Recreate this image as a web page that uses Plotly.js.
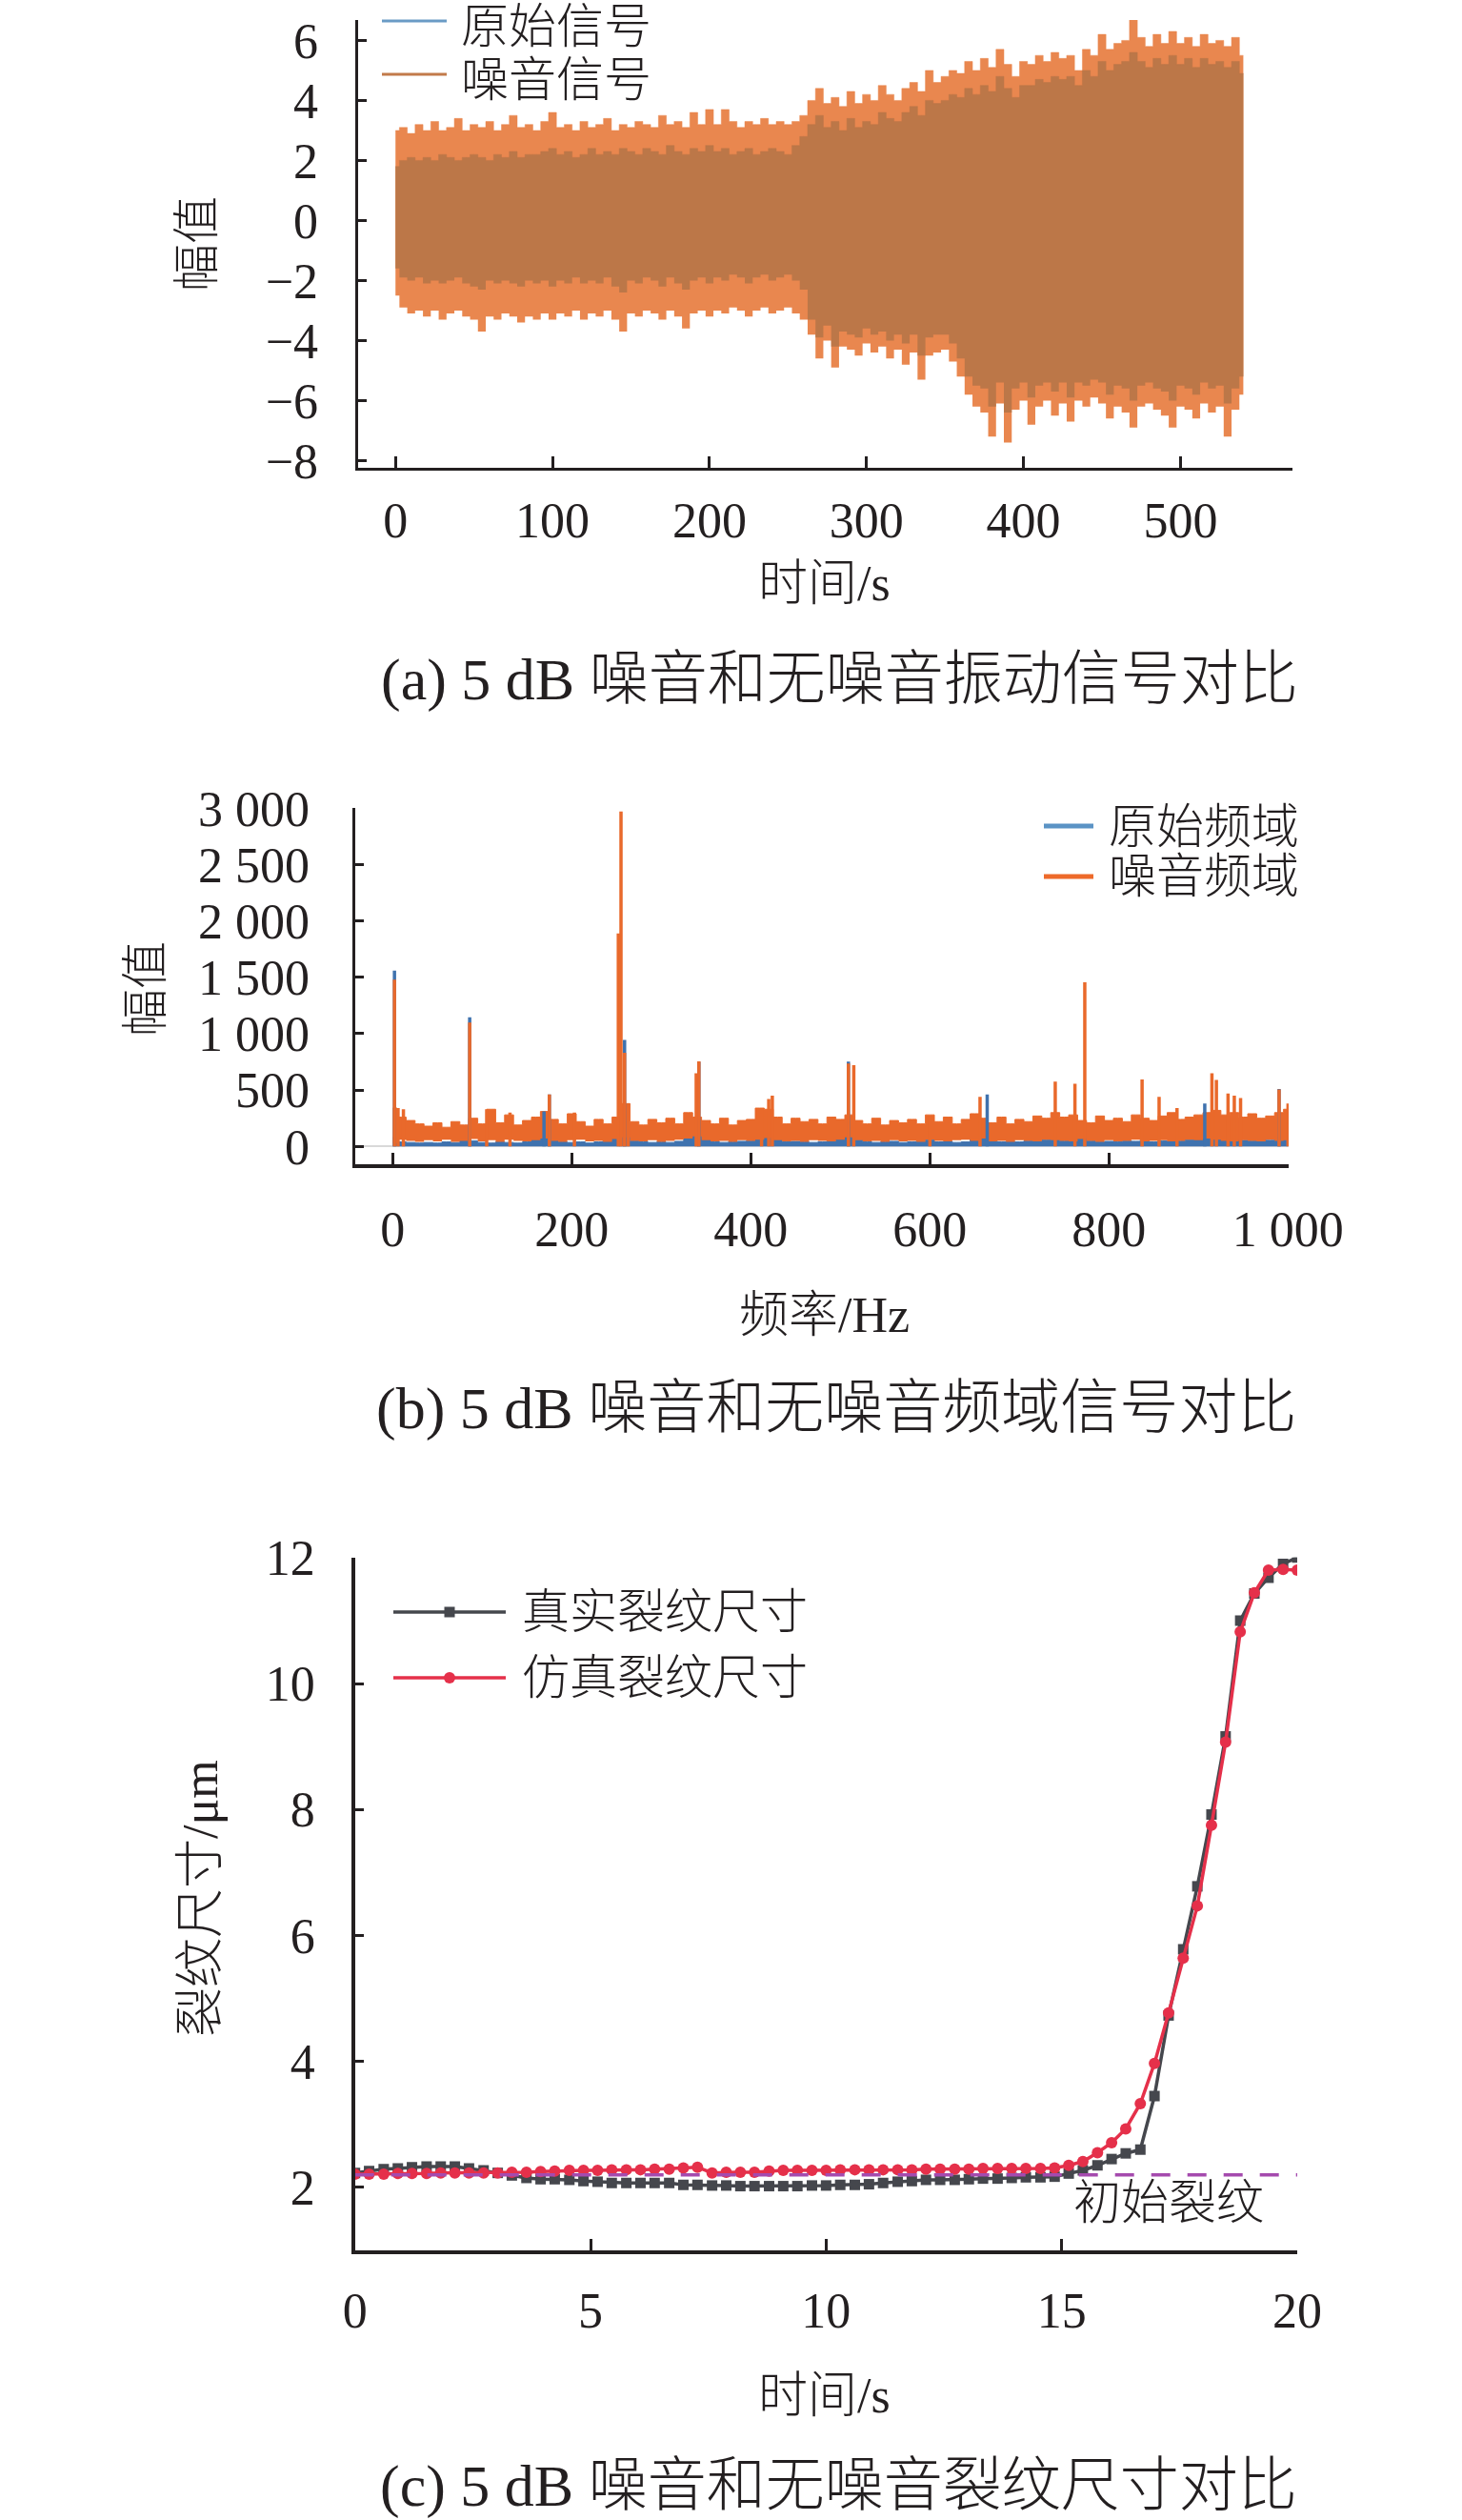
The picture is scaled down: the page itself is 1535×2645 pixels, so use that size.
<!DOCTYPE html>
<html>
<head>
<meta charset="utf-8">
<script src="https://cdn.plot.ly/plotly-3.0.1.min.js"></script>
<style>
    html, body { margin: 0; padding: 0; background: #fff; }
</style>
</head>
<body>
<div id="chart" style="width:1535px;height:2645px"></div>
<script>
// ---- (a) time signal envelopes, read every 5 s ----
const timeA = [0,5,10,15,20,25,30,35,40,45,50,55,60,65,70,75,80,85,90,95,100,
    105,110,115,120,125,130,135,140,145,150,155,160,165,170,175,180,185,190,195,200,
    205,210,215,220,225,230,235,240,245,250,255,260,
    265,270,275,280,285,290,295,300,
    305,310,315,320,325,330,335,340,
    345,350,355,360,365,370,375,380,385,390,395,400,
    405,410,415,420,425,430,435,440,445,450,455,460,
    465,470,475,480,485,490,495,500,505,510,515,520,525,530,535,540];
const noiseUpper = [3.0,3.1,2.9,3.2,3.0,3.3,3.0,3.1,3.4,3.0,3.2,3.1,3.3,3.0,3.2,3.5,3.1,3.2,3.0,3.3,3.6,
    3.1,3.2,3.0,3.3,3.1,3.2,3.4,3.0,3.2,3.1,3.3,3.2,3.1,3.5,3.2,3.3,3.1,3.6,3.2,3.7,
    3.2,3.7,3.3,3.1,3.3,3.2,3.4,3.2,3.3,3.2,3.3,3.5,
    4.0,4.4,3.9,4.1,3.8,4.3,3.9,4.2,
    4.0,4.5,4.2,4.0,4.4,4.6,4.3,5.0,
    4.6,4.8,5.0,4.9,5.3,5.0,5.4,5.1,5.7,5.2,4.8,5.3,
    5.2,5.5,5.3,5.6,5.4,5.5,5.0,5.7,5.5,6.2,5.7,5.9,
    6.0,6.7,6.1,5.8,6.2,5.9,6.3,5.9,6.1,5.8,6.2,5.9,6.0,5.8,6.1,5.5];
const noiseLower = [-2.5,-2.9,-3.1,-3.0,-3.2,-3.0,-3.3,-3.1,-3.0,-3.2,-3.3,-3.7,-3.2,-3.3,-3.1,-3.2,-3.4,-3.2,-3.3,-3.1,-3.3,
    -3.1,-3.2,-3.0,-3.3,-3.1,-3.2,-3.0,-3.3,-3.7,-3.1,-3.2,-3.0,-3.1,-3.3,-3.0,-3.2,-3.6,-3.1,-3.0,-3.2,
    -3.0,-3.1,-2.9,-3.0,-3.2,-3.0,-2.9,-3.1,-3.0,-2.9,-3.1,-3.3,
    -3.8,-4.6,-4.0,-4.9,-4.2,-4.3,-4.5,-4.1,
    -4.4,-4.2,-4.6,-4.3,-4.8,-4.4,-5.3,-4.5,-4.4,-4.3,-4.7,-5.2,
    -5.8,-6.2,-6.4,-7.2,-6.1,-7.4,-6.3,-6.0,
    -6.8,-6.2,-6.0,-6.5,-6.1,-6.7,-6.0,-6.2,-5.9,-6.1,-6.6,-6.2,
    -6.4,-6.9,-6.2,-6.1,-6.3,-6.5,-6.9,-6.2,-6.3,-6.6,-6.1,-6.4,-6.2,-7.2,-6.3,-5.8];
const origUpper = [1.8,2.0,2.1,2.0,2.1,2.0,2.2,2.1,2.0,2.1,2.2,2.1,2.0,2.2,2.1,2.3,2.1,2.2,2.2,2.3,2.4,
    2.2,2.3,2.1,2.2,2.4,2.2,2.3,2.2,2.4,2.3,2.2,2.4,2.3,2.2,2.5,2.3,2.2,2.4,2.3,2.5,
    2.3,2.4,2.2,2.3,2.4,2.2,2.3,2.4,2.3,2.2,2.5,2.8,
    3.2,3.5,3.1,3.3,3.0,3.4,3.1,3.3,
    3.2,3.6,3.4,3.3,3.6,3.8,3.5,4.0,
    3.9,4.0,4.2,4.1,4.4,4.2,4.5,4.3,4.8,4.4,4.1,4.5,
    4.5,4.7,4.6,4.8,4.7,4.8,4.5,5.0,4.8,5.3,5.0,5.2,
    5.3,5.6,5.3,5.1,5.4,5.2,5.5,5.2,5.4,5.1,5.4,5.2,5.3,5.1,5.3,4.9];
const origLower = [-1.6,-1.9,-2.0,-1.9,-2.1,-2.0,-2.1,-2.0,-1.9,-2.1,-2.2,-2.3,-2.0,-2.1,-2.0,-2.1,-2.2,-2.0,-2.1,-2.0,-2.2,
    -2.0,-2.1,-1.9,-2.1,-2.0,-2.1,-1.9,-2.2,-2.4,-2.0,-2.1,-1.9,-2.0,-2.2,-1.9,-2.1,-2.3,-2.0,-1.9,-2.1,
    -1.9,-2.0,-1.8,-1.9,-2.1,-1.9,-1.8,-2.0,-1.9,-1.8,-2.0,-2.3,
    -3.3,-3.9,-3.5,-4.2,-3.7,-3.8,-3.9,-3.6,
    -3.8,-3.7,-4.0,-3.8,-4.1,-3.8,-4.5,-3.9,-3.8,-3.8,-4.1,-4.6,
    -5.2,-5.5,-5.6,-6.2,-5.4,-6.4,-5.6,-5.4,
    -5.9,-5.5,-5.4,-5.7,-5.4,-5.9,-5.4,-5.5,-5.3,-5.4,-5.8,-5.5,
    -5.6,-6.0,-5.5,-5.4,-5.6,-5.7,-6.0,-5.5,-5.6,-5.8,-5.4,-5.6,-5.5,-6.1,-5.6,-5.2];
const aXTicks = [0, 100, 200, 300, 400, 500];
const aYTicks = [-8, -6, -4, -2, 0, 2, 4, 6];

// ---- (b) spectrum: noise floor every 10 Hz plus peaks ----
const freqB = [0,10,20,30,40,50,60,70,80,90,100,110,120,130,140,150,160,170,180,190,
    200,210,220,230,240,250,260,270,280,290,300,310,320,330,340,350,360,370,380,390,
    400,410,420,430,440,450,460,470,480,490,500,510,520,530,540,550,560,570,580,590,
    600,610,620,630,640,650,660,670,680,690,700,710,720,730,740,750,760,770,780,790,
    800,810,820,830,840,850,860,870,880,890,900,910,920,930,940,950,960,970,980,990,1000];
const noiseTop = [340,260,230,200,180,210,170,220,190,250,
    200,330,210,280,190,230,260,310,240,200,
    290,220,180,240,200,260,380,220,190,240,
    210,250,200,300,260,230,200,250,190,230,
    240,340,330,260,200,250,220,240,200,260,
    240,280,230,200,250,190,230,210,240,200,
    280,220,260,200,240,290,250,210,260,200,
    240,220,270,250,300,260,280,230,210,270,
    230,250,220,280,250,230,270,300,240,260,
    280,300,320,280,300,260,290,250,270,300,330];
const noiseBottom = [30,60,50,40,55,45,60,40,50,65,
    45,55,40,60,50,45,55,70,50,40,
    55,60,45,50,40,65,80,50,45,55,
    40,50,60,70,90,55,45,50,40,55,
    50,60,75,55,45,50,40,55,50,45,
    60,80,55,45,50,40,55,45,50,40,
    60,50,45,55,60,50,70,45,50,40,
    55,50,45,60,55,50,45,65,50,40,
    55,45,50,60,45,50,55,45,50,60,
    55,70,60,50,45,55,50,45,60,50,55];
const origTop = [80,40,35,30,35,30,40,35,60,50,
    35,30,40,35,30,40,80,200,90,40,
    35,40,30,40,60,180,200,50,40,35,
    40,35,45,90,220,70,40,35,40,45,
    50,120,160,70,40,45,40,35,40,50,
    90,200,60,40,35,40,45,35,40,50,
    60,40,45,35,40,80,140,60,40,45,
    40,50,45,60,90,50,70,100,50,40,
    45,40,50,45,60,40,50,45,50,60,
    80,120,90,60,70,55,50,60,55,80,60];
const noisePeakF = [2,6,12,86,105,131,175,203,252,255,259,263,339,342,412,420,424,509,515,600,
    656,740,762,773,837,856,876,915,920,933,940,947,990,1000];
const noisePeakA = [1480,340,330,1100,330,300,460,300,1890,2970,830,380,650,755,340,420,450,735,720,270,
    440,575,555,1455,595,440,340,648,590,470,450,430,505,380];
const origPeakF = [2,86,169,175,259,342,509,664,907,990];
const origPeakA = [1560,1145,310,460,944,750,752,460,380,510];
const bXTicks = [0, 200, 400, 600, 800, 1000];
const bXText = ['0', '200', '400', '600', '800', '1 000'];
const bYTicks = [0, 500, 1000, 1500, 2000, 2500, 3000];
const bYText = ['0', '500', '1 000', '1 500', '2 000', '2 500', '3 000'];

// ---- (c) crack size ----
const timeC = [0,0.30,0.61,0.91,1.21,1.52,1.82,2.12,2.42,2.73,3.03,3.33,3.64,3.94,4.24,4.55,4.85,
    5.15,5.45,5.76,6.06,6.36,6.67,6.97,7.27,7.58,7.88,8.18,8.48,8.79,9.09,9.39,9.70,
    10.00,10.30,10.61,10.91,11.21,11.52,11.82,12.12,12.42,12.73,13.03,13.33,13.64,13.94,14.24,14.55,14.85,
    15.15,15.45,15.76,16.06,16.36,16.67,16.97,17.27,17.58,17.88,18.18,18.48,18.79,19.09,19.39,19.70,20.00];
const realCrack = [2.23,2.26,2.29,2.30,2.32,2.33,2.33,2.33,2.30,2.27,2.23,2.19,2.15,2.13,2.13,2.12,2.10,
    2.09,2.07,2.07,2.07,2.07,2.07,2.04,2.04,2.03,2.03,2.02,2.02,2.02,2.02,2.02,2.03,
    2.03,2.04,2.04,2.05,2.07,2.09,2.10,2.12,2.12,2.12,2.13,2.14,2.14,2.15,2.16,2.16,2.17,
    2.22,2.27,2.35,2.45,2.54,2.60,3.45,4.73,5.78,6.78,7.92,9.16,11.00,11.43,11.68,11.90,12.00];
const simCrack = [2.21,2.21,2.21,2.22,2.22,2.22,2.23,2.23,2.23,2.23,2.23,2.24,2.24,2.25,2.26,2.27,2.27,
    2.27,2.28,2.28,2.28,2.29,2.29,2.31,2.32,2.23,2.24,2.24,2.24,2.26,2.27,2.27,2.27,
    2.27,2.28,2.28,2.28,2.28,2.28,2.28,2.29,2.29,2.29,2.29,2.30,2.30,2.30,2.30,2.30,2.31,
    2.35,2.41,2.55,2.71,2.93,3.33,3.97,4.77,5.64,6.47,7.75,9.07,10.82,11.44,11.80,11.81,11.80];
const initCrackX = [0, 20];
const initCrackY = [2.2, 2.2];
const cXTicks = [0, 5, 10, 15, 20];
const cYTicks = [2, 4, 6, 8, 10, 12];

// ---- page geometry helpers (pixels -> paper fractions) ----
const W = 1535, H = 2645;
const px = x => x / W;
const py = y => 1 - y / H;
const INK = '#231f20';
const NUM_FONT = 'Liberation Serif, Times New Roman, serif';
const CJK_FONT = 'Liberation Serif, Noto Sans CJK SC, sans-serif';

function label(text, x, y, size, extra) {
    return Object.assign({
        text: text, xref: 'paper', yref: 'paper', x: px(x), y: py(y),
        xanchor: 'center', yanchor: 'middle', showarrow: false,
        font: { family: CJK_FONT, size: size, color: INK, weight: 300 }
    }, extra || {});
}

function legendLine(x0, x1, y, color, width) {
    return { type: 'line', xref: 'paper', yref: 'paper', x0: px(x0), x1: px(x1),
        y0: py(y), y1: py(y), line: { color: color, width: width } };
}

// vertical spikes from peak lists
function spikes(fs, amps) {
    const x = [], y = [];
    fs.forEach((f, i) => {
        x.push(f, f, null);
        y.push(0, amps[i], null);
    });
    return { x: x, y: y };
}

function axis(extra) {
    return Object.assign({
        showline: true, linecolor: INK, linewidth: 3.5,
        ticks: 'inside', tickcolor: INK, tickwidth: 3,
        showgrid: false, zeroline: false, fixedrange: true,
        tickfont: { family: NUM_FONT, size: 52, color: INK }
    }, extra);
}

const COL_A_NOISE = '#e9874f';
const COL_A_ORIG = '#bc7748';
const COL_B_NOISE = '#e9692b';
const COL_B_ORIG = '#3f72ae';
const COL_REAL = '#45474d';
const COL_SIM = '#e5304a';

const noiseSp = spikes(noisePeakF, noisePeakA);
const origSp = spikes(origPeakF, origPeakA);

const traces = [
    // (a)
    { x: timeA, y: noiseLower, xaxis: 'x', yaxis: 'y', mode: 'lines', line: { width: 0, shape: 'hvh' }, hoverinfo: 'skip' },
    { x: timeA, y: noiseUpper, xaxis: 'x', yaxis: 'y', mode: 'lines', fill: 'tonexty', fillcolor: COL_A_NOISE,
      line: { width: 0.5, color: COL_A_NOISE, shape: 'hvh' }, name: '噪音信号' },
    { x: timeA, y: origLower, xaxis: 'x', yaxis: 'y', mode: 'lines', line: { width: 0, shape: 'hvh' }, hoverinfo: 'skip' },
    { x: timeA, y: origUpper, xaxis: 'x', yaxis: 'y', mode: 'lines', fill: 'tonexty', fillcolor: COL_A_ORIG,
      line: { width: 0.5, color: COL_A_ORIG, shape: 'hvh' }, name: '原始信号' },
    // (b)
    { x: freqB, y: origTop, xaxis: 'x2', yaxis: 'y2', mode: 'lines', fill: 'tozeroy', fillcolor: COL_B_ORIG,
      line: { width: 1, color: COL_B_ORIG, shape: 'hvh' }, name: '原始频域' },
    { x: freqB, y: noiseBottom, xaxis: 'x2', yaxis: 'y2', mode: 'lines', line: { width: 0, shape: 'hvh' }, hoverinfo: 'skip' },
    { x: freqB, y: noiseTop, xaxis: 'x2', yaxis: 'y2', mode: 'lines', fill: 'tonexty', fillcolor: COL_B_NOISE,
      line: { width: 1, color: COL_B_NOISE, shape: 'hvh' }, name: '噪音频域' },
    { x: origSp.x, y: origSp.y, xaxis: 'x2', yaxis: 'y2', mode: 'lines', line: { width: 3.5, color: COL_B_ORIG } },
    { x: noiseSp.x, y: noiseSp.y, xaxis: 'x2', yaxis: 'y2', mode: 'lines', line: { width: 3.5, color: COL_B_NOISE } },
    // (c)
    { x: timeC, y: realCrack, xaxis: 'x3', yaxis: 'y3', mode: 'lines+markers', name: '真实裂纹尺寸',
      line: { color: COL_REAL, width: 3.5 }, marker: { symbol: 'square', size: 11, color: COL_REAL } },
    { x: timeC, y: simCrack, xaxis: 'x3', yaxis: 'y3', mode: 'lines+markers', name: '仿真裂纹尺寸',
      line: { color: COL_SIM, width: 3.5 }, marker: { symbol: 'circle', size: 12, color: COL_SIM } },
    { x: initCrackX, y: initCrackY, xaxis: 'x3', yaxis: 'y3', mode: 'lines', name: '初始裂纹',
      line: { color: '#a54aae', width: 3.5, dash: '20px,18px' } }
];

const layout = {
    width: W, height: H,
    margin: { l: 0, r: 0, t: 0, b: 0 },
    paper_bgcolor: '#fff', plot_bgcolor: '#fff',
    showlegend: false,
    xaxis: axis({ domain: [px(376), px(1357)], range: [-23.8, 571.3], anchor: 'y',
        tickvals: aXTicks, ticklen: 12, ticklabelstandoff: 7 }),
    yaxis: axis({ domain: [py(490.7), py(21)], range: [-8.23, 6.68], anchor: 'x',
        tickvals: aYTicks, ticklen: 9, ticklabelstandoff: 28 }),
    xaxis2: axis({ domain: [px(373), px(1353)], range: [-41.8, 1000.7], anchor: 'y2',
        tickvals: bXTicks, ticktext: bXText, ticklen: 12, ticklabelstandoff: 20 }),
    yaxis2: axis({ domain: [py(1222.3), py(848.3)], range: [-160.6, 3000], anchor: 'x2',
        tickvals: bYTicks, ticktext: bYText, ticklen: 9, ticklabelstandoff: 34,
        zeroline: true, zerolinecolor: '#d9d9d9', zerolinewidth: 2 }),
    xaxis3: axis({ domain: [px(372.7), px(1362)], range: [0, 20], anchor: 'y3',
        tickvals: cXTicks, ticklen: 12, ticklabelstandoff: 15 }),
    yaxis3: axis({ domain: [py(2362), py(1634.8)], range: [1, 12], anchor: 'x3',
        tickvals: cYTicks, ticklen: 9, ticklabelstandoff: 28 }),
    shapes: [
        legendLine(401, 469, 22, '#6a9bc5', 3),
        legendLine(401, 469, 78, '#c27a4a', 3),
        legendLine(1096, 1148, 867, '#5b93c5', 5),
        legendLine(1096, 1148, 920, '#ee6a2a', 5),
        legendLine(413, 531, 1692, COL_REAL, 3.5),
        { type: 'rect', xref: 'paper', yref: 'paper', x0: px(466.5), x1: px(477.5), y0: py(1697.5), y1: py(1686.5),
          fillcolor: COL_REAL, line: { width: 0 } },
        legendLine(413, 531, 1761, COL_SIM, 3.5),
        { type: 'circle', xref: 'paper', yref: 'paper', x0: px(466), x1: px(478), y0: py(1767), y1: py(1755),
          fillcolor: COL_SIM, line: { width: 0 } }
    ],
    annotations: [
        // (a)
        label('原始信号', 482, 28, 50, { xanchor: 'left' }),
        label('噪音信号', 482, 84, 50, { xanchor: 'left' }),
        label('幅值', 207, 256, 50, { textangle: -90 }),
        label('时间/s', 866, 612, 52),
        label('(a) 5 dB 噪音和无噪音振动信号对比', 881, 714, 62),
        // (b)
        label('原始频域', 1162, 868, 50, { xanchor: 'left' }),
        label('噪音频域', 1162, 920, 50, { xanchor: 'left' }),
        label('幅值', 153, 1038, 50, { textangle: -90 }),
        label('频率/Hz', 866, 1380, 52),
        label('(b) 5 dB 噪音和无噪音频域信号对比', 878, 1478, 62),
        // (c)
        label('真实裂纹尺寸', 546, 1692, 50, { xanchor: 'left' }),
        label('仿真裂纹尺寸', 546, 1761, 50, { xanchor: 'left' }),
        label('裂纹尺寸/μm', 211, 1993, 52, { textangle: -90 }),
        label('时间/s', 865, 2514, 52),
        label('(c) 5 dB 噪音和无噪音裂纹尺寸对比', 880, 2609, 62),
        { text: '初始裂纹', xref: 'x3', yref: 'y3', x: 17.27, y: 1.75, showarrow: false,
          xanchor: 'center', yanchor: 'middle', font: { family: CJK_FONT, size: 50, color: INK, weight: 300 } }
    ]
};

Plotly.newPlot('chart', traces, layout, { staticPlot: true, displayModeBar: false });
</script>
</body>
</html>
